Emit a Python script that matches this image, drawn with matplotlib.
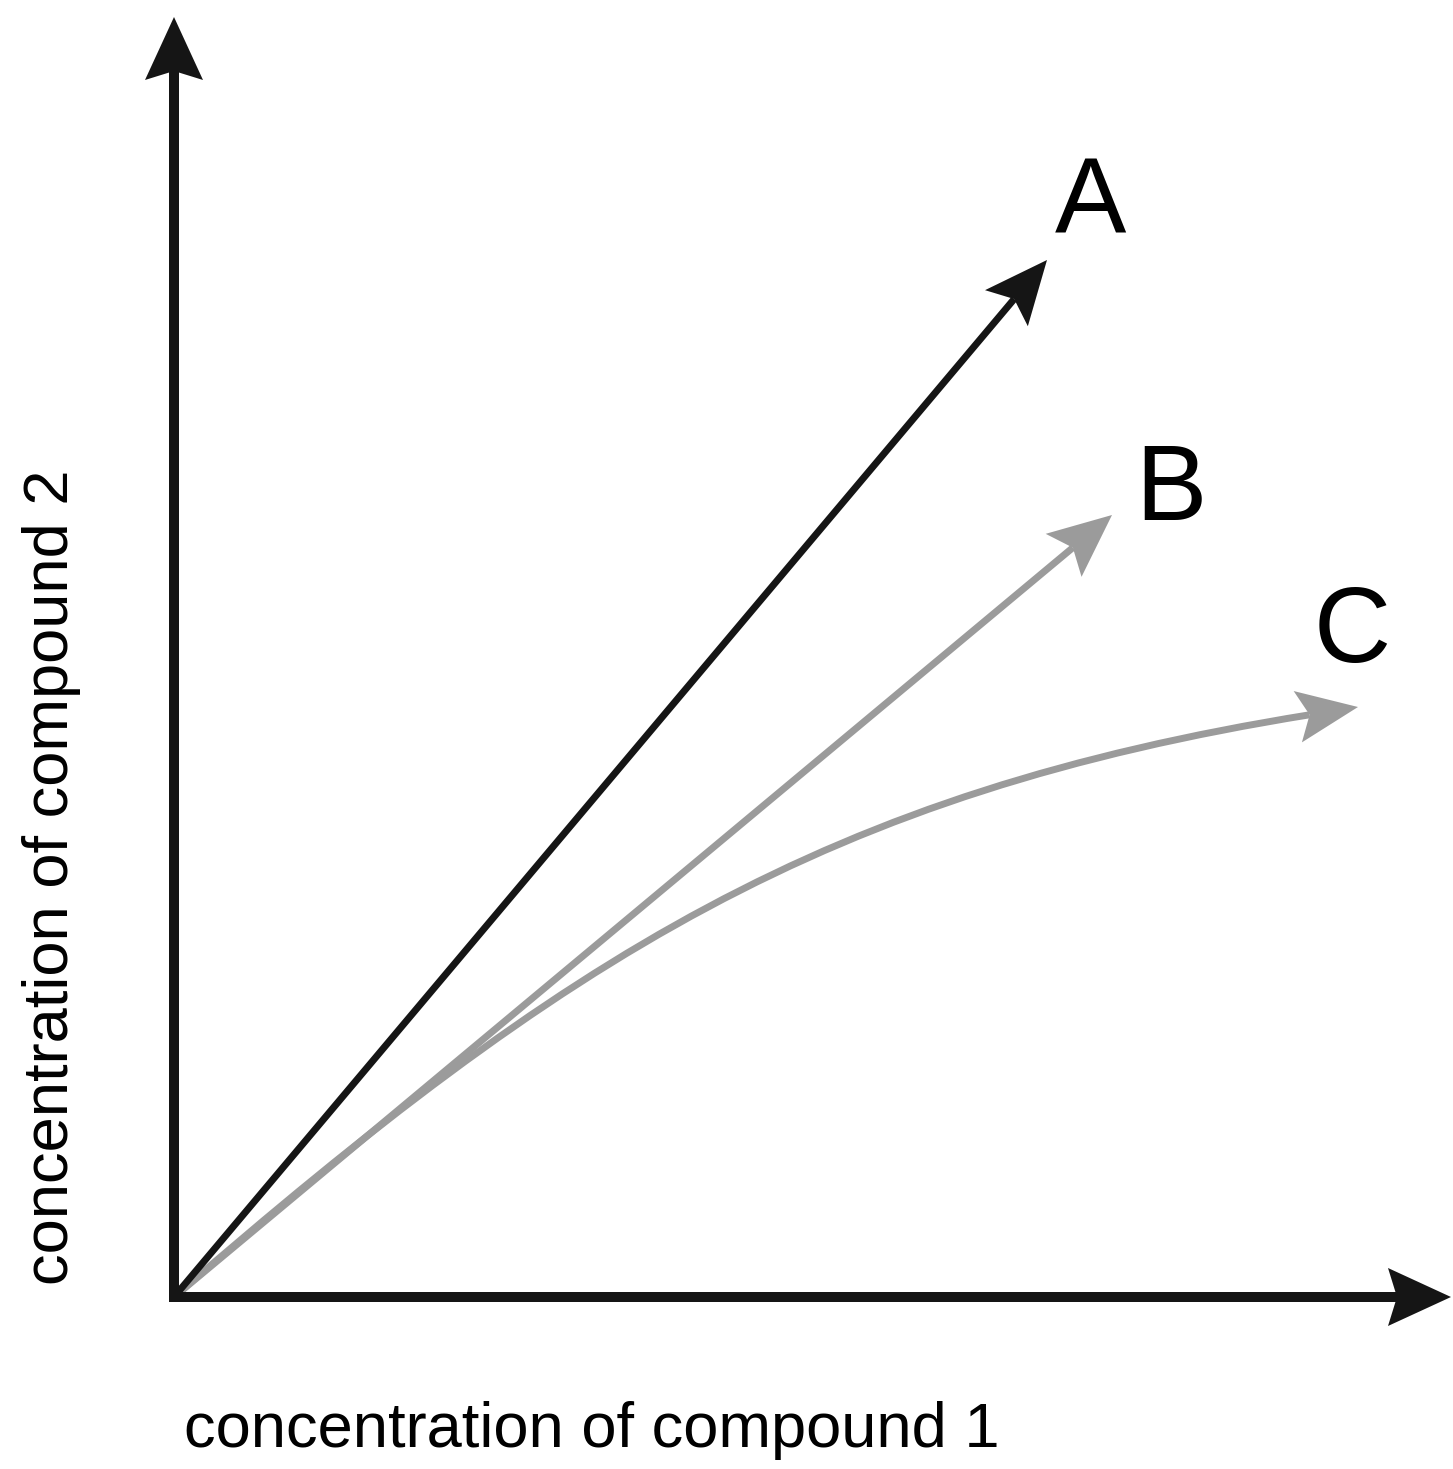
import matplotlib
matplotlib.use('Agg')
import matplotlib.pyplot as plt
from matplotlib.patches import Polygon, PathPatch
from matplotlib.path import Path
import numpy as np

plt.rcParams['font.family'] = ['Liberation Sans', 'DejaVu Sans']

# ---- data (schematic units, origin at the corner of the axes) ----
x_axis_end = (1277, 0)
y_axis_end = (0, 1280)

names = ['A', 'B', 'C']
tip_x = [873, 938, 1184]
tip_y = [1037, 782, 590]

# C bends over: cubic bezier control points (start, c1, c2, tip)
curve_c_x = [0, 393, 700, 1184]
curve_c_y = [0, 341, 512, 590]

name_x = [916, 997, 1178]
name_y = [1064, 777, 635]

xlabel = 'concentration of compound 1'
ylabel = 'concentration of compound 2'

# ---- style ----
BLACK = '#151515'
GREY = '#9b9b9b'
colors = [BLACK, GREY, GREY]
AXIS_LW = 7.2
LINE_LW = 5.0

fig = plt.figure(figsize=(14.53, 14.69), dpi=100)
ax = fig.add_axes([0, 0, 1, 1])
ax.set_xlim(-174, 1279)
ax.set_ylim(-172, 1297)
ax.axis('off')


def head(tip, direction, length, half_w, notch, color):
    """stealth style arrow head, returns the point where the shaft stops"""
    tip = np.asarray(tip, float)
    d = np.asarray(direction, float)
    d = d / np.hypot(*d)
    n = np.array([-d[1], d[0]])
    back = tip - d * length
    pts = [tip, back + n * half_w, tip - d * notch, back - n * half_w]
    ax.add_patch(Polygon(pts, closed=True, fc=color, ec='none', zorder=4))
    return tip - d * notch


# arrows A and B (straight)
for i in range(2):
    stop = head((tip_x[i], tip_y[i]), (tip_x[i], tip_y[i]), 63, 28, 51, colors[i])
    ax.plot([0, stop[0]], [0, stop[1]], color=colors[i], lw=LINE_LW,
            solid_capstyle='butt', zorder=3 if i == 0 else 2)

# arrow C (curved)
p = np.column_stack([curve_c_x, curve_c_y]).astype(float)
stop = head(p[3], p[3] - p[2], 61, 26, 49, colors[2])
shift = p[3] - stop
verts = [p[0], p[1], p[2] - shift, stop]
path = Path(verts, [Path.MOVETO, Path.CURVE4, Path.CURVE4, Path.CURVE4])
ax.add_patch(PathPatch(path, fc='none', ec=colors[2], lw=LINE_LW,
                       capstyle='butt', zorder=2))

# axes with arrow heads
for end in (x_axis_end, y_axis_end):
    stop = head(end, end, 63, 29, 54, BLACK)
    ax.plot([0, stop[0]], [0, stop[1]], color=BLACK, lw=AXIS_LW,
            solid_capstyle='projecting', zorder=4)

for i, name in enumerate(names):
    ax.text(name_x[i], name_y[i], name, fontsize=77, ha='center',
            va='baseline', color='black')

ax.text(418, -150, xlabel, fontsize=45.5, ha='center', va='baseline')
ax.text(-122, 420, ylabel, fontsize=45.5, ha='center', va='center',
        rotation=90, rotation_mode='anchor')

fig.savefig('out.png', dpi=100)
